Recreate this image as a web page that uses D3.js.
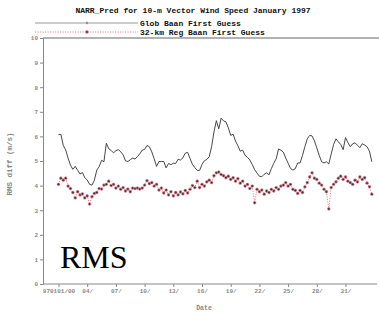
<!DOCTYPE html>
<html><head><meta charset="utf-8">
<script src="https://cdn.jsdelivr.net/npm/d3@7"></script>
<style>html,body{margin:0;padding:0;background:#fff;}svg{display:block;}</style>
</head><body>
<script>
const titleText = "NARR_Pred for 10-m Vector Wind Speed January 1997";
const seriesNames = ["Glob Baan First Guess", "32-km Reg Baan First Guess"];
const stepHours = 6; // 6-hourly values from 970101/00
const globValues = [6.08,6.08,5.63,5.45,5.12,4.83,4.66,4.78,4.62,4.47,4.53,4.32,4.23,4.05,4.02,4.22,4.63,4.77,5.03,4.97,
5.72,5.50,5.43,5.33,5.42,5.46,5.38,5.25,5.01,4.98,5.05,5.12,5.08,5.18,5.29,5.44,5.47,5.63,5.58,5.37,
5.09,4.78,4.98,4.98,4.98,4.72,4.90,4.85,4.91,4.90,5.07,5.04,5.13,5.32,5.35,5.10,4.86,4.73,4.62,4.62,
4.86,5.01,5.06,5.17,5.58,6.18,6.64,6.31,6.74,6.63,6.59,6.35,6.04,6.09,5.81,5.62,5.40,5.44,5.23,5.15,
5.04,4.86,4.65,4.51,4.38,4.36,4.46,4.52,4.44,4.69,4.91,5.09,5.49,5.44,5.36,5.12,4.91,4.70,4.63,4.69,
4.92,4.92,5.22,5.58,5.90,6.04,6.02,5.82,5.53,5.23,4.97,4.92,4.97,4.88,5.28,5.67,5.90,5.78,5.67,5.46,
5.95,5.75,5.58,5.70,5.74,5.64,5.54,5.70,5.65,5.58,5.40,4.97];
const regValues = [4.05,4.30,4.22,4.30,3.98,3.88,3.72,3.50,3.75,3.62,3.66,3.50,3.58,3.25,3.55,3.68,3.72,3.88,3.86,4.02,
4.05,4.18,4.00,4.05,3.90,3.98,3.85,3.92,3.78,3.86,3.75,3.90,3.88,3.90,3.86,3.90,4.02,4.20,4.08,4.12,
3.98,4.05,3.82,3.90,3.70,3.82,3.62,3.75,3.58,3.72,3.62,3.74,3.66,3.80,3.70,3.85,4.00,3.92,4.18,3.92,
4.05,3.98,4.15,4.22,4.12,4.40,4.52,4.55,4.45,4.40,4.32,4.38,4.25,4.32,4.18,4.28,4.10,4.18,3.98,4.05,
3.88,3.98,3.30,3.85,3.75,3.82,3.65,3.78,3.72,3.85,3.78,3.92,3.85,3.98,4.02,4.12,3.98,4.05,3.85,3.80,
3.68,3.80,3.72,3.95,4.12,4.35,4.52,4.30,4.25,4.10,4.02,3.85,3.75,3.05,3.92,4.05,4.15,4.30,4.38,4.25,
4.35,4.18,4.12,4.05,4.22,4.15,4.35,4.25,4.32,4.10,3.95,3.65];
const xTickDays = [0,3,6,9,12,15,18,21,24,27,30];
const xTickLabels = ["970101/00","04/","07/","10/","13/","16/","19/","22/","25/","28/","31/"];
const yTicks = [0,1,2,3,4,5,6,7,8,9,10];
const yLabel = "RMS diff (m/s)";
const xLabel = "Date";
const overlayText = "RMS";

const W = 379, H = 315;
const svg = d3.select("body").append("svg").attr("width", W).attr("height", H);
const mono = "'Liberation Mono', 'DejaVu Sans Mono', monospace";

const x = d3.scaleLinear().domain([-1.62, 33.29]).range([43, 377]);
const y = d3.scaleLinear().domain([0, 10]).range([284, 38]);

// title
svg.append("text").attr("x", 193).attr("y", 13).attr("text-anchor", "middle")
  .attr("font-family", mono).attr("font-weight", "bold").attr("font-size", 8).attr("fill", "#111")
  .text(titleText);

// top frame line
svg.append("line").attr("x1", 43).attr("x2", 379).attr("y1", y(10)).attr("y2", y(10))
  .attr("stroke", "#999").attr("stroke-width", 1.5);

// axes
const yAxis = d3.axisLeft(y).tickValues(yTicks).tickSize(3).tickPadding(2).tickFormat(d3.format("d"));
const gy = svg.append("g").attr("transform", "translate(43,0)").call(yAxis);
const xAxis = d3.axisBottom(x).tickValues(xTickDays).tickSize(3).tickPadding(2)
  .tickFormat((d, i) => xTickLabels[i]);
const gx = svg.append("g").attr("transform", "translate(0,284)").call(xAxis);
gx.select(".domain").attr("d", "M43,0H377");
[gx, gy].forEach(g => {
  g.select(".domain").attr("stroke", "#888");
  g.selectAll(".tick line").attr("stroke", "#888");
  g.selectAll(".tick text").attr("font-family", mono).attr("font-weight", "bold")
    .attr("font-size", 6).attr("fill", "#888");
});

// axis labels
svg.append("text").attr("transform", "translate(12,164) rotate(-90)").attr("text-anchor", "middle")
  .attr("font-family", mono).attr("font-weight", "bold").attr("font-size", 7.5).attr("fill", "#888")
  .text(yLabel);
svg.append("text").attr("x", 204).attr("y", 310).attr("text-anchor", "middle")
  .attr("font-family", mono).attr("font-weight", "bold").attr("font-size", 6.5).attr("fill", "#888")
  .text(xLabel);

// series
const tDay = i => i * stepHours / 24;
const line = d3.line().x((d, i) => x(tDay(i))).y(d => y(d));

svg.append("path").datum(regValues).attr("d", line).attr("fill", "none")
  .attr("stroke", "#f08090").attr("stroke-width", 1).attr("stroke-dasharray", "1.2,1.3");
svg.append("g").selectAll("circle").data(regValues).join("circle")
  .attr("cx", (d, i) => x(tDay(i))).attr("cy", d => y(d)).attr("r", 1.4)
  .attr("fill", "#4a3036").attr("stroke", "#f08898").attr("stroke-width", 0.6);

svg.append("path").datum(globValues).attr("d", line).attr("fill", "none")
  .attr("stroke", "#333").attr("stroke-width", 0.9);

// legend
const leg = svg.append("g");
seriesNames.forEach((name, i) => {
  const ly = 23 + i * 9;
  if (i === 0) {
    leg.append("line").attr("x1", 35).attr("x2", 138).attr("y1", ly).attr("y2", ly)
      .attr("stroke", "#999").attr("stroke-width", 1);
    leg.append("line").attr("x1", 87).attr("x2", 87).attr("y1", ly - 1.2).attr("y2", ly + 1.2)
      .attr("stroke", "#555").attr("stroke-width", 1);
  } else {
    leg.append("line").attr("x1", 35).attr("x2", 138).attr("y1", ly).attr("y2", ly)
      .attr("stroke", "#f08090").attr("stroke-width", 1).attr("stroke-dasharray", "1.2,1.3");
    leg.append("circle").attr("cx", 87).attr("cy", ly).attr("r", 1.4)
      .attr("fill", "#4a3036").attr("stroke", "#f08898").attr("stroke-width", 0.6);
  }
  leg.append("text").attr("x", 140).attr("y", ly + 2.8)
    .attr("font-family", mono).attr("font-weight", "bold").attr("font-size", 8).attr("fill", "#111")
    .text(name);
});

// overlay text
svg.append("text").attr("x", 60).attr("y", 268)
  .attr("font-family", "'Liberation Serif', 'Times New Roman', serif").attr("font-size", 32).attr("fill", "#000")
  .text(overlayText);
</script>
</body></html>
